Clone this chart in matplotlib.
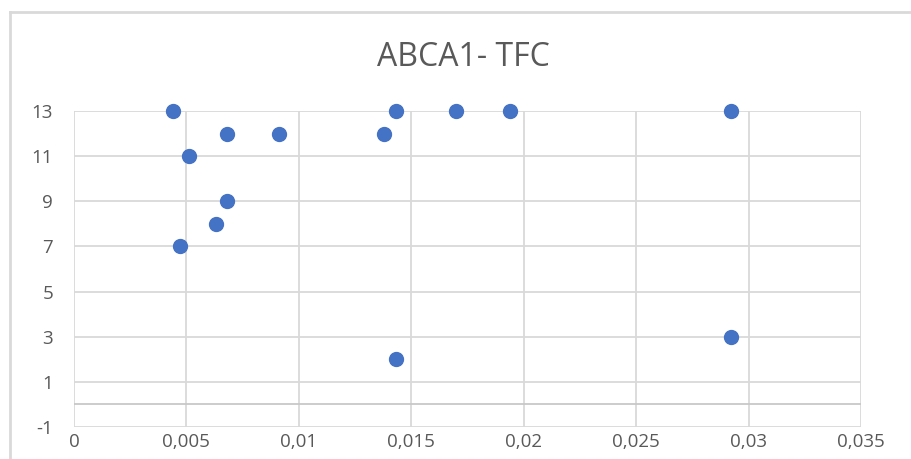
import matplotlib.pyplot as plt
from matplotlib.lines import Line2D
from matplotlib.ticker import FuncFormatter

plt.rcParams['font.family'] = ['Open Sans', 'DejaVu Sans']
plt.rcParams['axes.unicode_minus'] = False

tfc = [0.0044, 0.0068, 0.0091, 0.0051, 0.0068, 0.0063, 0.0047,
       0.0143, 0.0138, 0.0170, 0.0194, 0.0292, 0.0292, 0.0143]
abca1 = [13, 12, 12, 11, 9, 8, 7, 13, 12, 13, 13, 13, 3, 2]
x_ticks = [0, 0.005, 0.01, 0.015, 0.02, 0.025, 0.03, 0.035]
y_ticks = [-1, 1, 3, 5, 7, 9, 11, 13]

text_col = '#595959'
grid_col = '#d9d9d9'

fig = plt.figure(figsize=(9.11, 4.59), dpi=100)
ax = fig.add_axes([74 / 911, 1 - 427 / 459, 787 / 911, 316 / 459])

ax.set_xlim(0, 0.035)
ax.set_ylim(-1, 13)
ax.set_xticks(x_ticks)
ax.set_yticks(y_ticks)
ax.xaxis.set_major_formatter(FuncFormatter(lambda v, p: ('%g' % round(v, 4)).replace('.', ',')))
ax.grid(True, color=grid_col, linewidth=1.3)
ax.set_axisbelow(True)
for s in ax.spines.values():
    s.set_visible(False)
ax.axhline(0, color='#c8c8c8', linewidth=1.3, zorder=1)
ax.tick_params(length=0, labelsize=13.5, colors=text_col)
ax.tick_params(axis='y', pad=15)
ax.tick_params(axis='x', pad=4)

ax.scatter(tfc, abca1, s=100, color='#4472c4', zorder=3, clip_on=False)

fig.text(463 / 911, 1 - 58 / 459, 'ABCA1- TFC', ha='center', va='center',
         fontsize=23, color=text_col)

# chart area frame (only top and left visible in the crop)
fig.add_artist(Line2D([10 / 911, 10 / 911], [0, 1 - 12 / 459], color=grid_col, linewidth=2))
fig.add_artist(Line2D([10 / 911, 1], [1 - 12 / 459, 1 - 12 / 459], color=grid_col, linewidth=2))

fig.savefig('out.png', dpi=100)
